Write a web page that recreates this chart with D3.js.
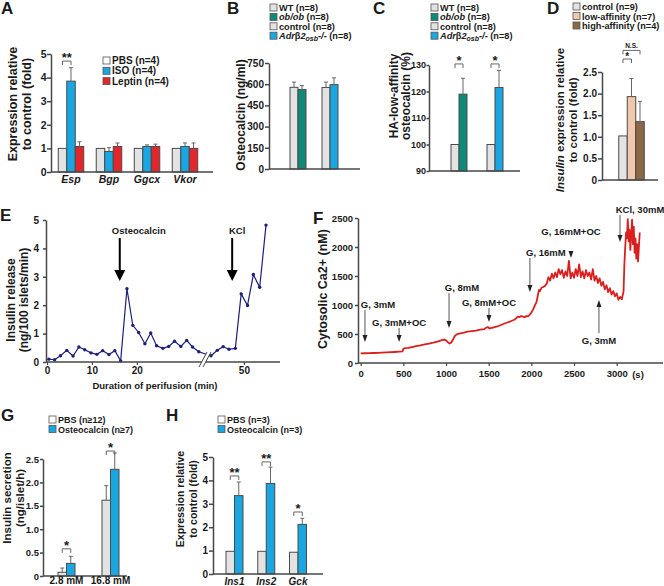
<!DOCTYPE html>
<html>
<head>
<meta charset="utf-8">
<script src="https://cdn.jsdelivr.net/npm/d3@7"></script>
<style>
  body { margin: 0; background: #fff; }
  svg text { font-family: "Liberation Sans", Arial, sans-serif; font-weight: bold; fill: #1a1a1a; }
</style>
</head>
<body>
<svg id="fig" width="664" height="586"></svg>
<script>
// ---- A: gene expression after treatment
const genesA = ['Esp', 'Bgp', 'Ggcx', 'Vkor'];
const pbsA = [1, 1, 1, 1];
const isoA = [3.85, 0.87, 1.08, 1.08];
const isoErrA = [0.57, 0.16, 0.07, 0.15];
const leptinA = [1.08, 1.08, 1.08, 1.0];
const leptinErrA = [0.2, 0.15, 0.1, 0.23];
const ticksA = [0, 1, 2, 3, 4, 5];

// ---- B / C: serum osteocalcin, two mutant pairs
const pairsBC = ['ob/ob', 'Adrb2'];
const ctrlB = [578, 577];
const ctrlErrB = [37, 38];
const mutB = [562, 597];
const mutErrB = [28, 48];
const ticksB = [0, 150, 300, 450, 600, 750];
const ctrlC = [100, 100];
const mutC = [119, 121.5];
const mutErrC = [6, 6.5];
const ticksC = [90, 100, 110, 120, 130];

// ---- D: insulin expression
const groupsD = ['control', 'low-affinity', 'high-affinity'];
const insulinD = [1.02, 1.93, 1.35];
const insulinErrD = [0, 0.42, 0.47];
const ticksD = [0, 0.5, 1, 1.5, 2, 2.5];

// ---- E: perifusion (minutes, ng/100 islets/min)
const timeE = [0.4, 1.7, 3.0, 4.4, 5.8, 7.1, 8.4, 9.8, 11.1, 12.4, 13.8, 15.1, 16.4, 17.8, 19.1, 20.4,
  21.8, 23.1, 24.4, 25.8, 27.1, 28.4, 29.8, 31.1, 32.4, 33.8,
  42.7, 44.1, 45.4, 46.7, 48.1, 49.4, 50.8, 52.1, 53.5, 54.9];
const releaseE = [0.1, 0.08, 0.22, 0.41, 0.21, 0.53, 0.43, 0.32, 0.27, 0.40, 0.26, 0.40, 0.04, 2.58, 1.29, 1.04,
  0.64, 1.02, 0.57, 0.48, 0.55, 0.73, 0.55, 0.76, 0.53, 0.36,
  0.22, 0.41, 0.54, 0.45, 0.48, 2.40, 1.99, 3.08, 2.63, 4.82];
const ticksEy = [0, 1, 2, 3, 4, 5];
const ticksEx = [0, 10, 20, 50];
const eventsE = [{ label: 'Osteocalcin', t: 16.2 }, { label: 'KCl', t: 47.4 }];

// ---- F: cytosolic Ca2+ (s, nM)
const timeF = [0, 50, 100, 150, 200, 250, 300, 350, 400, 450, 490, 500, 520, 560, 600, 650, 700, 750, 800, 850,
  900, 950, 980, 1000, 1020, 1040, 1060, 1080, 1100, 1120, 1150, 1200, 1250, 1300, 1350, 1400, 1450, 1470, 1490,
  1510, 1550, 1600, 1650, 1700, 1750, 1800, 1820, 1840, 1860, 1880, 1900, 1920, 1940, 1960, 1980, 2000, 2020,
  2040, 2060, 2070, 2080, 2090, 2100, 2120, 2140, 2160, 2180, 2200, 2220, 2240, 2260, 2280, 2300, 2320, 2340,
  2360, 2380, 2400, 2420, 2440, 2460, 2480, 2500, 2520, 2540, 2560, 2580, 2600, 2620, 2640, 2660, 2680, 2700,
  2720, 2740, 2760, 2780, 2800, 2820, 2840, 2860, 2880, 2900, 2920, 2940, 2960, 2980, 3000, 3020, 3040, 3060,
  3080, 3090, 3100, 3110, 3120, 3130, 3140, 3150, 3160, 3170, 3180, 3190, 3200, 3210, 3220, 3230, 3240, 3250,
  3260, 3270];
const calciumF = [165, 168, 170, 172, 175, 178, 182, 186, 190, 195, 200, 245, 255, 262, 275, 290, 305, 320, 335, 350,
  370, 395, 405, 390, 360, 335, 350, 400, 460, 490, 505, 520, 540, 550, 560, 575, 585, 610, 620,
  595, 610, 630, 660, 690, 715, 745, 770, 800, 790, 810, 800, 790, 810, 805, 830, 870, 920,
  990, 1050, 1120, 1200, 1260, 1240, 1300, 1310, 1330, 1370, 1480, 1420, 1540, 1460, 1560, 1480, 1620, 1530,
  1600, 1470, 1580, 1500, 1760, 1460, 1560, 1470, 1620, 1500, 1700, 1480, 1580, 1460, 1600, 1500, 1560, 1440,
  1620, 1420, 1500, 1380, 1460, 1330, 1400, 1270, 1340, 1220, 1290, 1180, 1240, 1150, 1200, 1090, 1140, 1100,
  1230, 1700, 2000, 2250, 2150, 2480, 2100, 2300, 1950, 2200, 2470, 2050, 2350, 1900, 2150, 1800, 2050, 1750,
  2000, 2250];
const ticksFy = [0, 500, 1000, 1500, 2000, 2500];
const ticksFx = [0, 500, 1000, 1500, 2000, 2500, 3000];
const eventsF = [
  { label: 'G, 3mM', t: 50 },
  { label: 'G, 3mM+OC', t: 450 },
  { label: 'G, 8mM', t: 1035 },
  { label: 'G, 8mM+OC', t: 1503 },
  { label: 'G, 16mM', t: 1983 },
  { label: 'G, 16mM+OC', t: 2464 },
  { label: 'G, 3mM', t: 2792 },
  { label: 'KCl, 30mM', t: 3039 }
];

// ---- G: insulin secretion
const glucoseG = ['2.8 mM', '16.8 mM'];
const pbsG = [0.08, 1.62];
const pbsErrG = [0.09, 0.31];
const osteoG = [0.27, 2.28];
const osteoErrG = [0.15, 0.35];
const ticksG = [0, 0.5, 1, 1.5, 2, 2.5];

// ---- H: islet gene expression
const genesH = ['Ins1', 'Ins2', 'Gck'];
const pbsH = [0.97, 0.97, 0.93];
const osteoH = [3.35, 3.87, 2.12];
const osteoErrH = [0.58, 0.70, 0.26];
const ticksH = [0, 1, 2, 3, 4, 5];

const svg = d3.select('#fig');
const AX = '#474747';
const COL = {
  grey: '#e3e3e3', white: '#ffffff', blue: '#1aa7e1', red: '#e2262b', teal: '#0f8a79',
  peach: '#f0c8ab', brown: '#8b6945', line: '#1d1f7a', ca: '#da1f1f'
};

// rich text: [text, style] with style 'i' (italic) and/or 'sub' (small, lowered)
function addParts(t, parts) {
  let lowered = false;
  parts.forEach(([txt, style = '']) => {
    const s = t.append('tspan').text(txt);
    if (style.includes('i')) s.attr('font-style', 'italic');
    if (style.includes('sub')) {
      s.attr('font-size', 7).attr('dy', 2);
      lowered = true;
    } else if (lowered) {
      s.attr('dy', -2);
      lowered = false;
    }
  });
}

function label(text, x, y, size, anchor = 'start', italic = false) {
  return svg.append('text').attr('x', x).attr('y', y).attr('font-size', size)
    .attr('text-anchor', anchor).attr('font-style', italic ? 'italic' : null).text(text);
}

function yAxis(y, x, ticks, fmt, size, tick = 4, pad = 1) {
  const g = svg.append('g').attr('transform', `translate(${x},0)`)
    .call(d3.axisLeft(y).tickValues(ticks).tickFormat(fmt).tickSize(tick).tickPadding(pad).tickSizeOuter(0));
  g.select('.domain').attr('stroke', AX).attr('stroke-width', 1.5);
  g.selectAll('.tick line').attr('stroke', AX).attr('stroke-width', 1.5);
  g.selectAll('.tick text').attr('font-size', size);
  return g;
}

function xBase(x1, x2, y) {
  svg.append('line').attr('x1', x1).attr('x2', x2).attr('y1', y).attr('y2', y)
    .attr('stroke', AX).attr('stroke-width', 1.5);
}

function yTitle(lines, x, cy, size, gap) {
  const t = svg.append('text').attr('transform', `translate(${x},${cy}) rotate(-90)`)
    .attr('text-anchor', 'middle').attr('font-size', size);
  lines.forEach((parts, i) => {
    const row = t.append('tspan').attr('x', 0).attr('dy', i === 0 ? 0 : gap);
    addParts(row, parts);
  });
}

function legend(items, x, y0, step, size) {
  items.forEach((item, i) => {
    const y = y0 + i * step;
    svg.append('rect').attr('x', x).attr('y', y - 7).attr('width', 7).attr('height', 7)
      .attr('fill', item.color).attr('stroke', '#555').attr('stroke-width', 0.8);
    addParts(svg.append('text').attr('x', x + 9).attr('y', y).attr('font-size', size), item.text);
  });
}

function barCenter(xPos, d, n, si, w) {
  return xPos(d) + (si - (n - 1) / 2) * w;
}

function drawBars(groups, xPos, series, w, y) {
  const base = y(y.domain()[0]);
  series.forEach((s, si) => {
    const g = svg.append('g');
    g.selectAll('rect').data(groups).join('rect')
      .attr('x', d => barCenter(xPos, d, series.length, si, w) - w / 2)
      .attr('width', w)
      .attr('y', (d, i) => y(s.vals[i]))
      .attr('height', (d, i) => base - y(s.vals[i]))
      .attr('fill', (d, i) => Array.isArray(s.fill) ? s.fill[i] : s.fill)
      .attr('stroke', '#4a4a4a').attr('stroke-width', 1);
    if (!s.errs) return;
    groups.forEach((d, i) => {
      if (!s.errs[i]) return;
      const cx = barCenter(xPos, d, series.length, si, w);
      const top = y(s.vals[i] + s.errs[i]);
      g.append('path').attr('d', `M${cx},${y(s.vals[i])}V${top}M${cx - 2},${top}H${cx + 2}`)
        .attr('fill', 'none').attr('stroke', '#666').attr('stroke-width', 1);
    });
  });
}

function sig(x1, x2, y, mark, size = 13, lift = -1) {
  svg.append('path').attr('d', `M${x1},${y + 4}V${y}H${x2}V${y + 4}`)
    .attr('fill', 'none').attr('stroke', '#666').attr('stroke-width', 1);
  label(mark, (x1 + x2) / 2, y - lift, size, 'middle');
}

const fmtDec = d => d === 0 ? '0' : d3.format('.1f')(d);

// ================= A
{
  const y = d3.scaleLinear().domain([0, 5]).range([172, 54]);
  const x = d3.scalePoint().domain(genesA).range([71, 185]);
  const w = 8.5;
  drawBars(genesA, x, [
    { vals: pbsA, fill: COL.grey },
    { vals: isoA, errs: isoErrA, fill: COL.blue },
    { vals: leptinA, errs: leptinErrA, fill: COL.red }
  ], w, y);
  xBase(51, 213, 172);
  yAxis(y, 51, ticksA, d3.format('d'), 10.5, 4, 0.5);
  genesA.forEach(g => label(g, x(g), 183, 10.5, 'middle', true));
  sig(barCenter(x, 'Esp', 3, 0, w), barCenter(x, 'Esp', 3, 1, w), y(4.7), '**');
  legend([
    { color: COL.white, text: [['PBS (n=4)']] },
    { color: COL.blue, text: [['ISO (n=4)']] },
    { color: COL.red, text: [['Leptin (n=4)']] }
  ], 103, 64, 10.3, 10);
  yTitle([[['Expression relative']], [['to control (fold)']]], 17, 104, 12.5, 14);
  label('A', 1, 14, 17);
}

// ================= B
const legendBC = [
  { color: COL.grey, text: [['WT (n=8)']] },
  { color: COL.teal, text: [['ob/ob', 'i'], [' (n=8)']] },
  { color: COL.grey, text: [['control (n=8)']] },
  { color: COL.blue, text: [['Adr', 'i'], ['β'], ['2', 'i'], ['osb', 'i sub'], ['-/-', 'i'], [' (n=8)']] }
];
{
  const y = d3.scaleLinear().domain([0, 750]).range([169, 63]);
  const x = d3.scalePoint().domain(pairsBC).range([298, 330]);
  drawBars(pairsBC, x, [
    { vals: ctrlB, errs: ctrlErrB, fill: COL.grey },
    { vals: mutB, errs: mutErrB, fill: [COL.teal, COL.blue] }
  ], 8, y);
  xBase(269, 360, 169);
  yAxis(y, 269, ticksB, d3.format('d'), 10, 4, 1);
  legend(legendBC, 270, 11, 9.4, 9.2);
  yTitle([[['Osteocalcin (ng/ml)']]], 245, 115, 12, 14);
  label('B', 227, 14, 17);
}

// ================= C
{
  const y = d3.scaleLinear().domain([90, 130]).range([171, 65]);
  const x = d3.scalePoint().domain(pairsBC).range([459, 495]);
  const w = 8;
  drawBars(pairsBC, x, [
    { vals: ctrlC, fill: COL.grey },
    { vals: mutC, errs: mutErrC, fill: [COL.teal, COL.blue] }
  ], w, y);
  xBase(429, 520, 171);
  yAxis(y, 429, ticksC, d3.format('d'), 9, 2.5, 0.5);
  pairsBC.forEach(p => sig(barCenter(x, p, 2, 0, w), barCenter(x, p, 2, 1, w), y(130.4), '*'));
  legend(legendBC, 431, 11, 9.4, 9.2);
  yTitle([[['HA-low-affinity']], [['osteocalcin (%)']]], 398, 96, 12, 12);
  label('C', 373, 14, 17);
}

// ================= D
{
  const y = d3.scaleLinear().domain([0, 2.5]).range([180, 72]);
  const x = d3.scalePoint().domain(['D']).range([631.5, 631.5]);
  const w = 8.5;
  drawBars(['D'], x, groupsD.map((g, i) => ({
    vals: [insulinD[i]], errs: [insulinErrD[i]], fill: [COL.grey, COL.peach, COL.brown][i]
  })), w, y);
  xBase(602, 658, 180);
  yAxis(y, 602, ticksD, fmtDec, 10, 4, 1);
  sig(barCenter(x, 'D', 3, 0, w), barCenter(x, 'D', 3, 2, w), y(3.0), 'N.S.', 6.5, 2);
  sig(barCenter(x, 'D', 3, 0, w), barCenter(x, 'D', 3, 1, w), y(2.8), '*', 10, -0.5);
  legend([
    { color: COL.grey, text: [['control (n=9)']] },
    { color: COL.peach, text: [['low-affinity (n=7)']] },
    { color: COL.brown, text: [['high-affinity (n=4)']] }
  ], 573, 10, 9.5, 9.2);
  yTitle([[['Insulin', 'i'], [' expression relative']], [['to control (fold)']]], 564, 120, 11.5, 13);
  label('D', 547, 14, 17);
}

// ================= E
{
  const y = d3.scaleLinear().domain([0, 5]).range([362, 220]);
  const x = d3.scaleLinear().domain([0, 35.4, 41.6, 58]).range([47, 206, 206, 280]);
  const line = d3.line().x((d, i) => x(timeE[i])).y(d => y(d));
  svg.append('path').datum(releaseE).attr('d', line)
    .attr('fill', 'none').attr('stroke', COL.line).attr('stroke-width', 1.2);
  svg.append('g').selectAll('circle').data(releaseE).join('circle')
    .attr('cx', (d, i) => x(timeE[i])).attr('cy', d => y(d)).attr('r', 1.7).attr('fill', COL.line);
  xBase(46, 280, 362);
  const gx = svg.append('g').attr('transform', 'translate(0,362)')
    .call(d3.axisBottom(x).tickValues(ticksEx).tickFormat(d3.format('d')).tickSize(3).tickPadding(2).tickSizeOuter(0));
  gx.select('.domain').remove();
  gx.selectAll('.tick line').attr('stroke', AX).attr('stroke-width', 1.2);
  gx.selectAll('.tick text').attr('font-size', 10);
  yAxis(y, 46, ticksEy, d3.format('d'), 10, 3, 4);
  // axis break
  svg.append('path').attr('d', 'M199,367L207,352L211,352L203,367Z').attr('fill', '#fff');
  svg.append('path').attr('d', 'M199,367L207,352M203,367L211,352')
    .attr('stroke', AX).attr('stroke-width', 1);
  eventsE.forEach(ev => {
    const ax = x(ev.t);
    svg.append('line').attr('x1', ax).attr('x2', ax).attr('y1', 238).attr('y2', 271)
      .attr('stroke', '#000').attr('stroke-width', 2);
    svg.append('path').attr('d', `M${ax - 5.5},${270}L${ax + 5.5},${270}L${ax},${281}Z`).attr('fill', '#000');
    label(ev.label, ev.label === 'KCl' ? ax + 5 : ax + 19, 234, 9.5, 'middle');
  });
  label('Duration of perifusion (min)', 155, 389, 9.5, 'middle');
  yTitle([[['Insulin release']], [['(ng/100 islets/min)']]], 15, 300, 12, 13);
  label('E', 0, 221, 17);
}

// ================= F
{
  const y = d3.scaleLinear().domain([0, 2500]).range([363, 218]);
  const x = d3.scaleLinear().domain([0, 3000]).range([360.7, 616.7]);
  const line = d3.line().x((d, i) => x(timeF[i])).y(d => y(d));
  svg.append('path').datum(calciumF).attr('d', line)
    .attr('fill', 'none').attr('stroke', COL.ca).attr('stroke-width', 1.8).attr('stroke-linejoin', 'round');
  xBase(358, 663, 363);
  const gx = svg.append('g').attr('transform', 'translate(0,363)')
    .call(d3.axisBottom(x).tickValues(ticksFx).tickFormat(d3.format('d')).tickSize(3).tickPadding(4).tickSizeOuter(0));
  gx.select('.domain').remove();
  gx.selectAll('.tick line').attr('stroke', AX).attr('stroke-width', 1.2);
  gx.selectAll('.tick text').attr('font-size', 9.5);
  label('(s)', 638, 378, 9.5, 'middle');
  yAxis(y, 358, ticksFy, d3.format('d'), 9.5, 3, 2);
  // arrow layout: [y start, y head, label x offset, label baseline]
  const layoutF = [[310, 342, 13, 308], [328, 342, 0, 326], [293, 328, 13, 291], [308, 322, 0, 306],
    [258, 292, 16, 256], [251, 258, 0, 235], [333, 300, 0, 344], [215, 242, 20, 213]];
  eventsF.forEach((ev, i) => {
    const [y1, y2, dx, ty] = layoutF[i];
    const ax = x(ev.t);
    const dir = y2 > y1 ? 1 : -1;
    svg.append('line').attr('x1', ax).attr('x2', ax).attr('y1', y1).attr('y2', y2 - dir * 5)
      .attr('stroke', '#555').attr('stroke-width', 1);
    svg.append('path').attr('d', `M${ax - 2.5},${y2 - dir * 7}L${ax + 2.5},${y2 - dir * 7}L${ax},${y2}Z`)
      .attr('fill', '#222');
    label(ev.label, ax + dx, ty, 9.5, 'middle');
  });
  yTitle([[['Cytosolic Ca2+ (nM)']]], 327, 289, 12.5, 13);
  label('F', 313, 224, 17);
}

// ================= G
{
  const y = d3.scaleLinear().domain([0, 2.5]).range([576, 459]);
  const x = d3.scalePoint().domain(glucoseG).range([66.5, 110.5]);
  const w = 8.5;
  drawBars(glucoseG, x, [
    { vals: pbsG, errs: pbsErrG, fill: COL.grey },
    { vals: osteoG, errs: osteoErrG, fill: COL.blue }
  ], w, y);
  xBase(43, 127, 576);
  yAxis(y, 43, ticksG, fmtDec, 9.5, 3, 1);
  glucoseG.forEach(g => label(g, x(g), 584, 10, 'middle'));
  [0.58, 2.67].forEach((lv, i) =>
    sig(barCenter(x, glucoseG[i], 2, 0, w), barCenter(x, glucoseG[i], 2, 1, w), y(lv), '*'));
  legend([
    { color: COL.white, text: [['PBS (n≥12)']] },
    { color: COL.blue, text: [['Osteocalcin (n≥7)']] }
  ], 49, 423, 9.5, 9);
  yTitle([[['Insulin secretion']], [['(ng/islet/h)']]], 11, 498, 11.5, 12.5);
  label('G', 1, 421, 17);
}

// ================= H
{
  const y = d3.scaleLinear().domain([0, 5]).range([574, 457]);
  const x = d3.scalePoint().domain(genesH).range([234.5, 298]);
  const w = 8.5;
  drawBars(genesH, x, [
    { vals: pbsH, fill: COL.grey },
    { vals: osteoH, errs: osteoErrH, fill: COL.blue }
  ], w, y);
  xBase(213, 323, 574);
  yAxis(y, 213, ticksH, d3.format('d'), 10, 4, 1);
  genesH.forEach(g => label(g, x(g), 585, 10, 'middle', true));
  [[4.19, '**'], [4.79, '**'], [2.65, '*']].forEach(([lv, m], i) =>
    sig(barCenter(x, genesH[i], 2, 0, w), barCenter(x, genesH[i], 2, 1, w), y(lv), m));
  legend([
    { color: COL.white, text: [['PBS (n=3)']] },
    { color: COL.blue, text: [['Osteocalcin (n=3)']] }
  ], 218, 423, 9.5, 9);
  yTitle([[['Expression relative']], [['to control (fold)']]], 184, 499, 10.5, 13);
  label('H', 166, 421, 17);
}
</script>
</body>
</html>
